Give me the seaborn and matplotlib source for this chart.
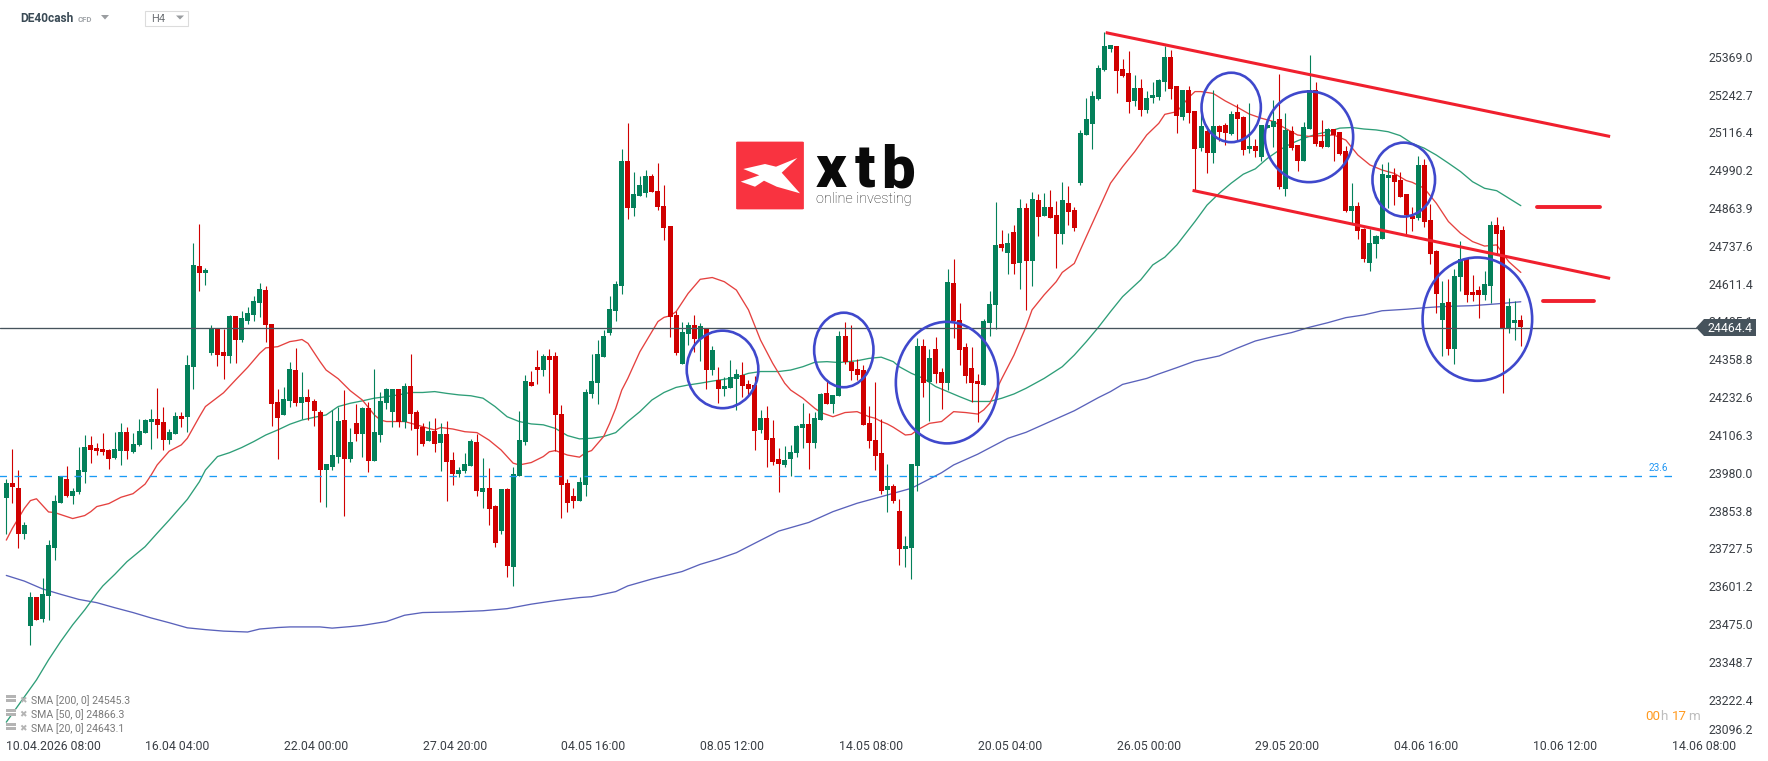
import matplotlib
matplotlib.use("Agg")
import matplotlib.pyplot as plt
from matplotlib.patches import Ellipse, FancyBboxPatch, Polygon, Rectangle
import numpy as np
import pandas as pd
import seaborn as sns

# DE40cash H4 candles, oldest first
opens = [
    23897, 23946, 23929, 23777, 23469, 23565, 23493, 23569, 23727, 23880,
    23959, 23903, 23914, 23983, 24073, 24063, 24059, 24056, 24029, 24053,
    24116, 24049, 24073, 24113, 24150, 24160, 24150, 24089, 24109, 24170,
    24166, 24333, 24671, 24647, 24380, 24460, 24383, 24370, 24504, 24423,
    24487, 24507, 24547, 24590, 24477, 24216, 24173, 24220, 24323, 24213,
    24233, 24220, 24183, 23989, 23999, 24033, 24156, 24026, 24146, 24109,
    24196, 24019, 24106, 24213, 24183, 24260, 24150, 24270, 24183, 24133,
    24086, 24119, 24079, 24109, 24023, 23976, 23986, 24003, 24083, 23916,
    23929, 23869, 23785, 23926, 23665, 23969, 24083, 24283, 24333, 24323,
    24370, 24370, 24176, 23946, 23902, 23886, 23939, 24243, 24280, 24367,
    24447, 24520, 24604, 25021, 24864, 24904, 24914, 24971, 24921, 24871,
    24804, 24507, 24343, 24443, 24474, 24427, 24460, 24323, 24290, 24260,
    24263, 24293, 24307, 24276, 24273, 24123, 24163, 24096, 24026, 24006,
    24026, 24046, 24129, 24143, 24079, 24156, 24246, 24210, 24236, 24437,
    24350, 24327, 24323, 24146, 24089, 24046, 23922, 23936, 23852, 23725,
    23729, 24003, 24403, 24283, 24393, 24317, 24280, 24614, 24490, 24400,
    24330, 24287, 24273, 24480, 24540, 24744, 24714, 24784, 24681, 24864,
    24687, 24891, 24838, 24868, 24841, 24777, 24881, 24858, 24948, 25108,
    25145, 25228, 25325, 25395, 25405, 25329, 25315, 25222, 25265, 25192,
    25232, 25235, 25285, 25369, 25272, 25168, 25258, 25188, 25065, 25121,
    25048, 25138, 25142, 25111, 25185, 25168, 25061, 25071, 25035, 25132,
    25135, 25162, 24928, 25121, 25075, 25021, 25128, 25258, 25088, 25068,
    25128, 25118, 25055, 24854, 24871, 24794, 24681, 24744, 24761, 24964,
    24974, 24958, 24911, 24838, 24831, 25008, 24824, 24721, 24490, 24550,
    24393, 24634, 24694, 24584, 24590, 24574, 24604, 24807, 24791, 24460, 24480, 24490,
]
highs = [
    23959, 24059, 23989, 23815, 23582, 23565, 23628, 23755, 23906, 23969,
    24003, 23929, 24066, 24105, 24103, 24079, 24113, 24059, 24116, 24146,
    24133, 24113, 24160, 24160, 24193, 24263, 24200, 24126, 24183, 24183,
    24373, 24747, 24811, 24664, 24473, 24463, 24460, 24507, 24504, 24520,
    24534, 24570, 24614, 24604, 24477, 24260, 24266, 24350, 24397, 24317,
    24260, 24226, 24190, 24009, 24190, 24200, 24256, 24129, 24210, 24200,
    24216, 24327, 24250, 24263, 24260, 24260, 24280, 24377, 24190, 24146,
    24153, 24163, 24146, 24153, 24049, 23999, 24046, 24093, 24109, 24029,
    23996, 23872, 23926, 23929, 23999, 24186, 24307, 24320, 24390, 24377,
    24393, 24383, 24206, 23959, 23929, 23966, 24260, 24377, 24423, 24457,
    24570, 24620, 25061, 25148, 24985, 24971, 24991, 24978, 25015, 24941,
    24804, 24520, 24483, 24483, 24507, 24480, 24463, 24403, 24333, 24300,
    24357, 24327, 24350, 24290, 24303, 24190, 24203, 24156, 24063, 24069,
    24073, 24140, 24213, 24180, 24183, 24246, 24286, 24240, 24453, 24483,
    24474, 24360, 24340, 24203, 24283, 24160, 24009, 23942, 23892, 23769,
    24009, 24430, 24427, 24393, 24433, 24330, 24661, 24694, 24547, 24413,
    24400, 24310, 24494, 24587, 24884, 24791, 24781, 24808, 24894, 24881,
    24918, 24911, 24914, 24924, 24888, 24951, 24938, 24868, 25125, 25232,
    25255, 25342, 25452, 25409, 25405, 25362, 25389, 25309, 25295, 25255,
    25285, 25295, 25405, 25392, 25272, 25258, 25272, 25188, 25195, 25138,
    25258, 25142, 25148, 25188, 25212, 25172, 25215, 25095, 25142, 25158,
    25225, 25312, 25182, 25138, 25075, 25152, 25375, 25285, 25158, 25131,
    25128, 25118, 25071, 24948, 24884, 24797, 24794, 24774, 25011, 25018,
    24998, 24984, 24911, 24868, 25038, 25028, 24878, 24724, 24620, 24627,
    24661, 24754, 24694, 24640, 24604, 24654, 24821, 24834, 24804, 24564, 24554, 24507,
]
lows = [
    23775, 23880, 23727, 23760, 23406, 23489, 23483, 23489, 23690, 23880,
    23899, 23877, 23910, 23947, 24013, 24039, 24039, 23993, 24026, 24006,
    24026, 24046, 24069, 24113, 24059, 24096, 24056, 24076, 24109, 24133,
    24116, 24260, 24587, 24607, 24373, 24337, 24293, 24347, 24347, 24417,
    24477, 24487, 24500, 24417, 24136, 24026, 24173, 24200, 24203, 24160,
    24156, 24136, 23882, 23866, 23989, 24013, 23836, 24016, 24086, 24033,
    23983, 24019, 24083, 24193, 24133, 24133, 24129, 24123, 24039, 24069,
    24086, 24049, 23986, 23886, 23939, 23966, 23979, 24003, 23902, 23862,
    23806, 23732, 23775, 23632, 23602, 23969, 24073, 24270, 24276, 24303,
    24246, 24053, 23829, 23849, 23862, 23886, 23902, 24230, 24210, 24367,
    24440, 24487, 24577, 24828, 24838, 24904, 24901, 24918, 24858, 24757,
    24433, 24373, 24343, 24407, 24383, 24353, 24260, 24307, 24213, 24236,
    24263, 24190, 24233, 24240, 24056, 24113, 23999, 24006, 23916, 23999,
    23968, 24033, 24063, 23993, 24063, 24156, 24210, 24180, 24236, 24343,
    24290, 24290, 24140, 24063, 23989, 23909, 23849, 23879, 23672, 23665,
    23625, 23919, 24233, 24153, 24280, 24193, 24256, 24430, 24340, 24280,
    24216, 24150, 24273, 24437, 24460, 24721, 24644, 24644, 24594, 24524,
    24604, 24771, 24838, 24831, 24664, 24744, 24808, 24787, 24941, 25108,
    25061, 25225, 25322, 25385, 25248, 25302, 25182, 25205, 25172, 25182,
    25215, 25225, 25255, 25228, 25115, 25158, 25148, 24924, 25055, 24981,
    25015, 25088, 25075, 25108, 25091, 25041, 25048, 25035, 25021, 25132,
    25068, 24928, 24904, 25058, 24988, 25021, 25128, 25071, 25065, 25068,
    25021, 25041, 24851, 24814, 24761, 24684, 24654, 24697, 24761, 24864,
    24874, 24901, 24774, 24787, 24824, 24801, 24677, 24514, 24370, 24373,
    24343, 24587, 24550, 24554, 24497, 24557, 24547, 24711, 24246, 24447, 24423, 24403,
]
closes = [
    23946, 23934, 23777, 23805, 23565, 23489, 23575, 23739, 23886, 23969,
    23903, 23919, 23989, 24066, 24056, 24053, 24049, 24026, 24059, 24116,
    24053, 24076, 24119, 24156, 24160, 24140, 24089, 24116, 24170, 24160,
    24340, 24674, 24647, 24657, 24460, 24373, 24370, 24504, 24423, 24497,
    24514, 24554, 24594, 24473, 24210, 24163, 24226, 24327, 24213, 24233,
    24216, 24186, 23989, 24009, 24039, 24153, 24026, 24083, 24109, 24196,
    24019, 24116, 24220, 24260, 24260, 24150, 24270, 24176, 24126, 24076,
    24119, 24076, 24109, 24016, 23976, 23989, 24009, 24086, 23919, 23929,
    23859, 23745, 23926, 23669, 23976, 24089, 24286, 24270, 24323, 24370,
    24357, 24173, 23939, 23879, 23886, 23949, 24250, 24286, 24377, 24437,
    24527, 24610, 25021, 24864, 24911, 24941, 24971, 24918, 24868, 24797,
    24500, 24380, 24450, 24474, 24427, 24470, 24323, 24390, 24260, 24270,
    24300, 24310, 24270, 24260, 24119, 24163, 24089, 24016, 24009, 24023,
    24049, 24136, 24143, 24079, 24163, 24243, 24210, 24240, 24437, 24350,
    24320, 24307, 24140, 24086, 24036, 23919, 23936, 23886, 23725, 23735,
    24009, 24403, 24280, 24363, 24310, 24280, 24617, 24487, 24390, 24303,
    24280, 24277, 24487, 24544, 24741, 24731, 24747, 24677, 24864, 24687,
    24894, 24834, 24868, 24831, 24777, 24891, 24851, 24797, 25115, 25162,
    25238, 25332, 25405, 25409, 25322, 25305, 25218, 25265, 25192, 25232,
    25242, 25292, 25369, 25262, 25172, 25258, 25182, 25061, 25138, 25048,
    25138, 25118, 25115, 25178, 25162, 25058, 25071, 25055, 25142, 25142,
    25155, 24934, 25125, 25065, 25021, 25135, 25258, 25078, 25068, 25128,
    25108, 25045, 24854, 24871, 24787, 24694, 24747, 24771, 24978, 24974,
    24951, 24901, 24841, 24828, 25008, 24818, 24711, 24577, 24547, 24393,
    24637, 24694, 24574, 24574, 24574, 24610, 24807, 24777, 24460, 24537, 24490, 24467,
]

# Moving averages, as (candle index, level)
sma20_idx = [0, 1, 3, 4, 5, 7, 8, 11, 13, 14, 15, 17, 19, 21, 23, 24, 25, 27, 29, 30, 32, 33, 36, 38, 40, 42, 43, 45, 47,
             48, 49, 50, 52, 53, 55, 57, 59, 61, 62, 63, 66, 68, 70, 71, 72, 74, 76, 78, 80, 82, 84, 85, 87, 89, 90, 91, 93, 95, 96,
             97, 99, 100, 101, 102, 103, 105, 107, 108, 109, 110, 111, 113, 115, 117, 119, 121, 123, 125, 127, 129, 130, 132, 134, 135, 137, 139, 141, 143, 144,
             145, 146, 147, 149, 150, 151, 153, 155, 157, 159, 161, 162, 163, 165, 167, 169, 170, 172, 174, 175, 177, 179, 181, 183, 185, 187, 189, 191, 192,
             194, 196, 197, 198, 200, 202, 204, 206, 208, 210, 212, 214, 216, 218, 220, 222, 224, 226, 228, 230, 232, 233, 235, 237, 239, 241, 243, 245, 247, 249, 251]
sma20_val = [23755, 23794, 23861, 23887, 23893, 23849, 23847, 23827, 23837, 23850, 23867, 23877, 23898, 23910, 23942, 23972, 24006, 24052, 24073, 24095, 24167, 24201, 24247, 24290, 24332, 24379, 24397, 24401, 24418,
             24421, 24425, 24412, 24351, 24323, 24294, 24254, 24223, 24173, 24156, 24151, 24151, 24140, 24128, 24123, 24131, 24126, 24117, 24114, 24089, 24056, 24012, 24006, 24014, 24034, 24050, 24054, 24039, 24032, 24047,
             24054, 24101, 24145, 24195, 24256, 24295, 24384, 24451, 24485, 24499, 24504, 24518, 24579, 24626, 24632, 24618, 24590, 24524, 24423, 24346, 24279, 24256, 24229, 24195, 24181, 24167, 24181, 24184, 24167, 24162,
             24151, 24143, 24132, 24106, 24108, 24123, 24145, 24151, 24184, 24181, 24176, 24190, 24212, 24295, 24373, 24468, 24524, 24574, 24618, 24649, 24679, 24769, 24858, 24947, 25002, 25052, 25108, 25147, 25177,
             25186, 25234, 25253, 25253, 25247, 25222, 25201, 25178, 25164, 25153, 25130, 25108, 25103, 25106, 25108, 25091, 25041, 25008, 24991, 24980, 24956, 24950, 24930, 24880, 24819, 24780, 24752, 24737, 24741, 24685, 24649]

sma50_idx = [0, 5, 7, 9, 11, 13, 15, 16, 18, 20, 23, 25, 27, 30, 32, 33, 35, 37, 39, 41, 43, 45, 47, 49, 51, 53, 55, 57, 59, 61, 63, 65, 67, 69, 71, 73, 75, 77, 79, 81, 83, 85, 87, 89, 91, 93, 95,
             97, 99, 101, 103, 105, 107, 109, 111, 113, 115, 117, 119, 121, 123, 125, 128, 130, 132, 134, 136, 138, 141, 143, 145, 147, 148, 150, 152, 154, 156, 158, 160, 163, 165, 167, 169, 172, 175, 177, 179, 181, 183, 185, 188, 190, 192,
             194, 197, 199, 201, 203, 205, 207, 209, 211, 213, 215, 217, 219, 221, 223, 225, 227, 229, 231, 233, 235, 237, 239, 241, 243, 245, 247, 249, 251]
sma50_val = [23147, 23288, 23355, 23416, 23472, 23522, 23577, 23602, 23641, 23683, 23733, 23778, 23822, 23891, 23950, 23989, 24034, 24047, 24064, 24084, 24106, 24123, 24142, 24156, 24165, 24173, 24201, 24212, 24220, 24229, 24234, 24240, 24248, 24248, 24251, 24245, 24240, 24237, 24229, 24201, 24167, 24151, 24143, 24140, 24128, 24104, 24093,
             24095, 24101, 24114, 24151, 24184, 24223, 24248, 24265, 24273, 24279, 24286, 24292, 24299, 24312, 24318, 24318, 24323, 24334, 24349, 24351, 24348, 24354, 24362, 24366, 24351, 24334, 24312, 24295, 24268, 24251, 24234, 24218, 24218, 24229, 24243, 24262, 24295, 24334, 24373, 24418, 24466, 24518, 24568, 24624, 24674, 24700,
             24741, 24819, 24874, 24913, 24947, 24977, 24995, 25030, 25058, 25080, 25097, 25110, 25119, 25131, 25133, 25128, 25125, 25119, 25106, 25080, 25064, 25041, 25014, 24986, 24952, 24930, 24922, 24897, 24872]

sma200_idx = [0, 3, 6, 9, 12, 15, 18, 21, 24, 27, 30, 33, 36, 40, 42, 45, 47, 52, 54, 57, 59, 63, 66, 69, 74, 79, 83, 87, 91, 95,
              97, 101, 103, 107, 112, 115, 118, 121, 124, 128, 133, 137, 141, 145, 150, 155, 157, 161, 166, 169, 173, 177, 181, 183, 185, 189, 191, 194, 197, 201, 204, 207, 210, 213, 216, 219, 222, 225, 228, 232, 235, 238, 243, 247, 251]
sma200_val = [23637, 23618, 23592, 23574, 23557, 23546, 23529, 23513, 23495, 23479, 23462, 23456, 23451, 23448, 23458, 23463, 23465, 23465, 23461, 23466, 23470, 23483, 23504, 23513, 23515, 23519, 23526, 23541, 23553, 23563,
              23566, 23583, 23602, 23625, 23650, 23674, 23692, 23713, 23744, 23785, 23814, 23850, 23878, 23900, 23928, 23980, 24006, 24042, 24095, 24115, 24151, 24187, 24231, 24251, 24275, 24295, 24310, 24331, 24353, 24370, 24396, 24420, 24435, 24448, 24466, 24481, 24498, 24507, 24521, 24526, 24531, 24535, 24538, 24544, 24551]

# Axis labelling
price_ticks = [25369.0, 25242.7, 25116.4, 24990.2, 24863.9, 24737.6, 24611.4, 24485.1, 24358.8,
               24232.6, 24106.3, 23980.0, 23853.8, 23727.5, 23601.2, 23475.0, 23348.7, 23222.4, 23096.2]
time_ticks = [0, 23, 46, 69, 92, 115, 138, 161, 184, 207, 230, 253, 276]
time_labels = ["10.04.2026 08:00", "16.04 04:00", "22.04 00:00", "27.04 20:00", "04.05 16:00", "08.05 12:00",
               "14.05 08:00", "20.05 04:00", "26.05 00:00", "29.05 20:00", "04.06 16:00", "10.06 12:00", "14.06 08:00"]

# Analyst markup: channel, target dashes, highlighted zones (index, price, index span, price span)
last_price = 24464.4
fib_level = 23968
channel_top = ([182.2, 265.8], [25450, 25103])
channel_low = ([196.6, 265.8], [24923, 24629])
target_high = ([253.7, 264.2], [24867, 24867])
target_low = ([254.7, 263.2], [24553, 24553])
zones = [(118.7, 24325, 11.87, 259), (138.8, 24390, 9.83, 249), (155.9, 24281, 16.95, 406),
         (203.0, 25200, 9.83, 232), (215.9, 25102, 14.63, 303), (231.6, 24959, 10.37, 247),
         (243.8, 24493, 18.16, 412)]

GREEN = "#04805a"
RED = "#d00000"
W, H = 1768, 761

sns.set_theme(style="white")
plt.rcParams["font.family"] = ["Roboto", "DejaVu Sans"]
plt.rcParams["lines.scale_dashes"] = False

fig = plt.figure(figsize=(W / 100, H / 100), dpi=100, facecolor="white")
ax = fig.add_axes([0, (H - 738) / H, 1697 / W, 738 / H])


def px(x, y):
    """Window pixel (origin top-left) to figure fraction, for the platform chrome."""
    return x / W, 1 - y / H


# Moving averages sit under the candles
for idx, val, col in [(sma200_idx, sma200_val, "#5a62bb"),
                      (sma50_idx, sma50_val, "#2e9e78"),
                      (sma20_idx, sma20_val, "#e5413f")]:
    frame = pd.DataFrame({"candle": idx, "level": val})
    sns.lineplot(data=frame, x="candle", y="level", color=col, linewidth=0.95,
                 estimator=None, sort=False, legend=False, ax=ax, zorder=2)

o, h, l, c = map(np.asarray, (opens, highs, lows, closes))
x = np.arange(len(o))
colors = np.where(c >= o, GREEN, RED)
ax.vlines(x, l, h, colors=colors, linewidth=0.8, zorder=3)
ax.bar(x, np.abs(c - o), bottom=np.minimum(o, c), width=0.83, color=colors, linewidth=0, zorder=4)

# Current price and the Fibonacci retracement
ax.axhline(last_price, color="#46535c", linewidth=0.95, zorder=5)
ax.plot([-2, 276.8], [fib_level, fib_level], color="#1a9bf5", linewidth=0.95,
        linestyle=(0, (5.4, 5.4)), zorder=5)
ax.text(275.4, fib_level + 12, "23.6", color="#2196f3", fontsize=7.2, ha="right", va="bottom", zorder=6)

# Hand-drawn channel, targets and zones
for xs, ys in (channel_top, channel_low):
    ax.plot(xs, ys, color="#f0202e", linewidth=2.2, solid_capstyle="butt", zorder=6)
for xs, ys in (target_high, target_low):
    ax.plot(xs, ys, color="#f0202e", linewidth=2.8, solid_capstyle="round", zorder=6)
for cx, cy, wd, ht in zones:
    ax.add_patch(Ellipse((cx, cy), wd, ht, fill=False, edgecolor="#3f48cc", linewidth=1.9, zorder=7))

ax.set_xlim(-1.044, 280.2)
ax.set_ylim(23094.0, 25558.9)
ax.set_xlabel("")
ax.set_ylabel("")
ax.grid(False)
for s in ax.spines.values():
    s.set_visible(False)

ax.yaxis.tick_right()
ax.set_yticks(price_ticks)
ax.set_yticklabels([f"{v:.1f}" for v in price_ticks])
ax.tick_params(axis="y", length=0, pad=8, labelsize=8.8, labelcolor="#3a3f45")
ax.get_yticklabels()[-1].set_va("bottom")
ax.set_xticks(time_ticks)
ax.set_xticklabels(time_labels, ha="left")
ax.tick_params(axis="x", length=0, pad=1.5, labelsize=8.8, labelcolor="#3a3f45")

# Last-price flag over the scale
flag = [px(1696, 327.7), px(1704, 319), px(1756, 319), px(1756, 336), px(1704, 336)]
fig.add_artist(Polygon(flag, closed=True, transform=fig.transFigure, facecolor="#46535c", edgecolor="none", zorder=8))
fig.text(*px(1708, 328), f"{last_price:.1f}", color="white", fontsize=8.8, va="center", ha="left", zorder=9)

# Header: instrument and timeframe selectors
fig.text(*px(20, 19), "DE40cash", color="#3a4a55", fontsize=8.6, fontweight="bold", va="center")
fig.text(*px(78, 19.5), "CFD", color="#a0a4a8", fontsize=5.6, fontweight="bold", va="center")
fig.add_artist(Polygon([px(101, 15), px(109, 15), px(105, 19.5)], closed=True, transform=fig.transFigure,
                       facecolor="#9a9da0", edgecolor="none"))
fig.add_artist(Rectangle(px(145, 25.5), 43 / W, 15 / H, transform=fig.transFigure, facecolor="white",
                         edgecolor="#dcdcdc", linewidth=0.8))
fig.text(*px(151, 19.5), "H4", color="#6e7276", fontsize=8, va="center")
fig.add_artist(Polygon([px(176, 15.5), px(184, 15.5), px(180, 19.5)], closed=True, transform=fig.transFigure,
                       facecolor="#9a9da0", edgecolor="none"))

# Broker logo
fig.add_artist(FancyBboxPatch(px(737, 209), 66 / W, 67 / H, boxstyle="round,pad=0.0005,rounding_size=0.001",
                              transform=fig.transFigure, facecolor="#f93340", edgecolor="none", zorder=1))
wing = [(743.3, 169), (765, 164), (776, 166.7), (797.3, 158), (781.7, 172.7), (800, 193.3),
        (776.7, 186.7), (764, 180.7), (755, 186.7), (740.7, 181.7), (759.3, 175.3)]
fig.add_artist(Polygon([px(*p) for p in wing], closed=True, transform=fig.transFigure,
                       facecolor="white", edgecolor="none", zorder=2))
for letter, lx in (("x", 815.5), ("t", 854.5), ("b", 881)):
    fig.text(*px(lx, 187), letter, color="#0a0a0a", fontsize=43, fontweight=900, va="baseline", ha="left", zorder=2)
fig.text(*px(816, 198.5), "online investing", color="#222222", fontsize=10.4, fontweight="light", va="center", zorder=2)

# Indicator list, bottom left
legend_rows = [(701, "SMA [200, 0] 24545.3"), (715, "SMA [50, 0] 24866.3"), (729, "SMA [20, 0] 24643.1")]
for ly, label in legend_rows:
    fig.add_artist(Rectangle(px(6, ly + 1), 10 / W, 7 / H, transform=fig.transFigure, facecolor="#b4b4b4", edgecolor="none", zorder=6))
    fig.add_artist(Rectangle(px(6, ly - 2), 10 / W, 1 / H, transform=fig.transFigure, facecolor="white", edgecolor="none", zorder=7))
    fig.text(*px(19, ly - 0.5), "\u2716", color="#b4b4b4", fontsize=6.5, family="DejaVu Sans", va="center", zorder=6)
    fig.text(*px(31, ly), label, color="#7a7a7a", fontsize=7.6, va="center", zorder=6)

# Candle countdown
for cx, part, col in ((1645, "00", "#ff9a1f"), (1660, "h", "#bdbdbd"), (1672.3, "17", "#ff9a1f"), (1688, "m", "#bdbdbd")):
    fig.text(*px(cx, 716), part, color=col, fontsize=9.6, va="center", ha="left", zorder=6)

fig.savefig("out.png", dpi=100)
